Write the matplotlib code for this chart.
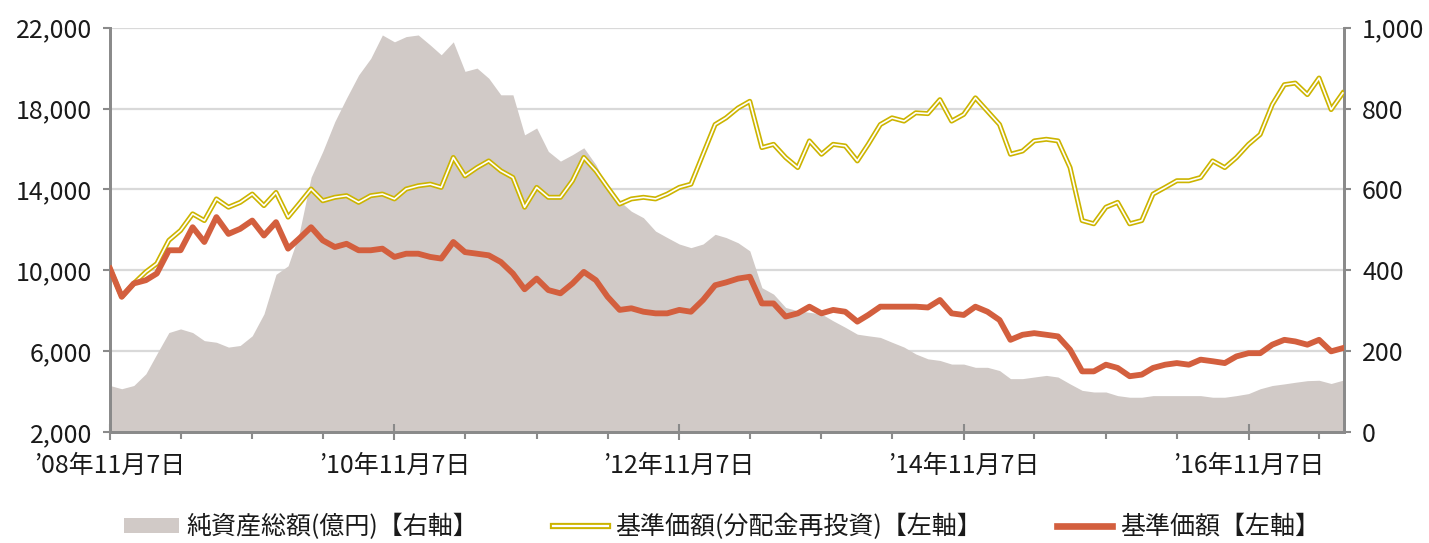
import numpy as np
import pandas as pd
import matplotlib.pyplot as plt
import matplotlib.dates as mdates
from matplotlib.lines import Line2D
from matplotlib.patches import Patch
from matplotlib.ticker import FuncFormatter

plt.rcParams['font.family'] = ['Noto Sans CJK JP', 'DejaVu Sans']

# monthly points, 2008-11-07 .. 2017-07-07
dates = pd.date_range('2008-11-07', periods=105, freq=pd.DateOffset(months=1))

# 基準価額 (left axis, yen)
nav = [10080, 8690, 9350, 9510, 9840, 10990, 10990, 12130, 11400, 12630,
       11800, 12050, 12460, 11720, 12380, 11070, 11560, 12130, 11480, 11150,
       11310, 10990, 10990, 11070, 10660, 10820, 10820, 10660, 10580, 11400,
       10900, 10820, 10740, 10410, 9840, 9060, 9590, 9020, 8860, 9350,
       9920, 9510, 8690, 8040, 8120, 7950, 7870, 7870, 8040, 7950,
       8530, 9260, 9400, 9590, 9680, 8360, 8360, 7710, 7870, 8200,
       7870, 8040, 7950, 7460, 7790, 8200, 8200, 8200, 8200, 8160,
       8530, 7870, 7790, 8200, 7950, 7540, 6560, 6810, 6890, 6810,
       6730, 6070, 5000, 5000, 5330, 5170, 4760, 4840, 5170, 5330,
       5410, 5330, 5580, 5500, 5410, 5740, 5900, 5900, 6320, 6560,
       6480, 6320, 6560, 5990, 6150]

# 基準価額(分配金再投資) (left axis, yen)
nav_reinv = [10080, 8690, 9350, 9920, 10330, 11480, 11970, 12790, 12460, 13530,
             13120, 13360, 13770, 13200, 13850, 12630, 13280, 14020, 13440, 13610,
             13690, 13360, 13690, 13770, 13530, 14020, 14180, 14260, 14100, 15580,
             14670, 15080, 15410, 14920, 14590, 13120, 14100, 13610, 13610, 14430,
             15580, 14920, 14100, 13280, 13530, 13610, 13530, 13770, 14100, 14260,
             15740, 17210, 17540, 18030, 18360, 16070, 16230, 15580, 15080, 16400,
             15740, 16230, 16150, 15410, 16230, 17210, 17540, 17380, 17790, 17750,
             18440, 17380, 17710, 18530, 17870, 17210, 15740, 15900, 16400, 16480,
             16400, 15080, 12460, 12300, 13120, 13360, 12300, 12460, 13770, 14100,
             14430, 14430, 14590, 15410, 15080, 15580, 16230, 16720, 18200, 19180,
             19260, 18690, 19510, 17950, 18770]

# 純資産総額 (right axis, 億円)
net_assets = [115, 107, 115, 144, 193, 246, 255, 246, 226, 222,
              210, 214, 238, 292, 390, 411, 489, 630, 694, 768,
              826, 883, 924, 982, 965, 978, 982, 957, 933, 965,
              892, 900, 875, 834, 834, 735, 752, 694, 670, 686,
              703, 661, 604, 571, 546, 530, 497, 481, 465, 456,
              465, 489, 481, 468, 448, 357, 341, 308, 300, 296,
              292, 275, 259, 242, 238, 234, 222, 210, 193, 181,
              177, 168, 168, 160, 160, 152, 132, 132, 136, 140,
              136, 119, 103, 99, 99, 90, 86, 86, 90, 90,
              90, 90, 90, 86, 86, 90, 95, 107, 115, 119,
              123, 127, 128, 120, 128]

tick_dates = ['2008-11-07', '2010-11-07', '2012-11-07', '2014-11-07', '2016-11-07']
tick_labels = ['’08年11月7日', '’10年11月7日', '’12年11月7日', '’14年11月7日', '’16年11月7日']

gray = '#d1cac7'
yellow = '#ccb400'
red = '#d35f3e'
spine_c = '#8a8a8a'
text_c = '#1a1a1a'

fig = plt.figure(figsize=(14.29, 5.43), dpi=100)
ax = fig.add_axes([0.077, 0.2044, 0.8635, 0.7446])
ax2 = ax.twinx()
ax.set_zorder(ax2.get_zorder() + 1)
ax.patch.set_visible(False)

# net assets area + grid on the right axis (grid stays behind the area)
ax2.set_axisbelow(True)
ax2.grid(axis='y', color='#d9d9d9', linewidth=1.6)
ax2.fill_between(dates, net_assets, 0, color=gray, linewidth=0, zorder=2)
ax2.set_ylim(0, 1000)
ax2.set_yticks(np.arange(0, 1001, 200))
ax2.yaxis.set_major_formatter(FuncFormatter(lambda v, p: f'{v:,.0f}'))

# lines on the left axis
ax.plot(dates, nav_reinv, color=yellow, linewidth=3.6, solid_joinstyle='round', zorder=3)
ax.plot(dates, nav_reinv, color='white', linewidth=1.2, zorder=4)
ax.plot(dates, nav, color=red, linewidth=4.2, solid_joinstyle='round', zorder=5)
ax.set_ylim(2000, 22000)
ax.set_yticks(np.arange(2000, 22001, 4000))
ax.yaxis.set_major_formatter(FuncFormatter(lambda v, p: f'{v:,.0f}'))

ax.set_xlim(pd.Timestamp('2008-11-07'), pd.Timestamp('2017-07-10'))
ax.set_xticks(pd.to_datetime(tick_dates))
ax.set_xticklabels(tick_labels)
ax.xaxis.set_minor_locator(mdates.MonthLocator(bymonth=(5, 11), bymonthday=7))

for a in (ax, ax2):
    a.spines['top'].set_visible(False)
    for s in ('left', 'right', 'bottom'):
        a.spines[s].set_color(spine_c)
        a.spines[s].set_linewidth(2)

ax.tick_params(axis='y', direction='out', length=5, width=1.5, color=spine_c,
               labelsize=18, labelcolor=text_c, pad=8)
ax2.tick_params(axis='y', direction='out', length=5, width=1.5, color=spine_c,
                labelsize=18, labelcolor=text_c, pad=8)
ax.tick_params(axis='x', which='major', direction='inout', length=12, width=1.5,
               color=spine_c, labelsize=18, labelcolor=text_c, pad=9)
ax.tick_params(axis='x', which='minor', direction='out', length=5, width=1.5, color=spine_c)

handles = [Patch(facecolor=gray, edgecolor='none'),
           (Line2D([], [], color=yellow, linewidth=4.5), Line2D([], [], color='white', linewidth=1.6)),
           Line2D([], [], color=red, linewidth=4.8)]
labels = ['純資産総額(億円)【右軸】', '基準価額(分配金再投資)【左軸】', '基準価額【左軸】']
leg = fig.legend(handles, labels, loc='center', bbox_to_anchor=(0.505, 0.03), ncol=3,
                 frameon=False, fontsize=18, handlelength=2.2, handleheight=0.55,
                 handletextpad=0.3, columnspacing=3.0)
for t in leg.get_texts():
    t.set_color(text_c)

fig.savefig('out.png', dpi=100, facecolor='white')
